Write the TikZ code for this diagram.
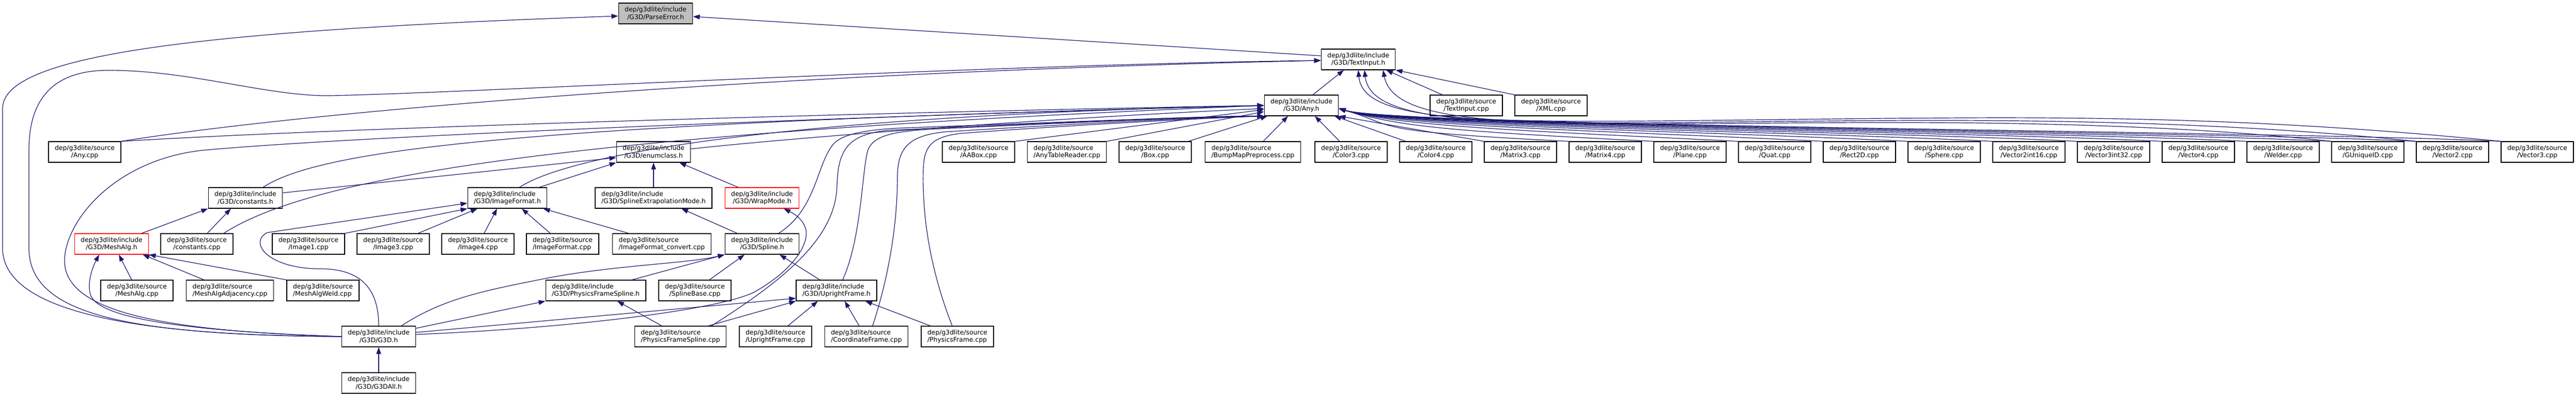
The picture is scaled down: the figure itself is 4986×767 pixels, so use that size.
\documentclass[tikz,border=0pt]{standalone}
\usepackage{fontspec}
\setmainfont{DejaVu Sans}
\usepackage{tikz}
\usetikzlibrary{arrows.meta}
\definecolor{Edge}{RGB}{25,25,112}
\definecolor{Root}{RGB}{191,191,191}
\newcommand{\SrcNode}[5][]{% style name x y file
\node[filebox,#1] (#2) at (#3,#4) {dep/g3dlite/source\\/#5};
}
\newcommand{\IncNode}[5][]{% style name x y header
\node[filebox,#1] (#2) at (#3,#4) {dep/g3dlite/include\\/G3D/#5};
}

\begin{document}
\begin{tikzpicture}[x=0.5pt,y=-0.5pt,
  filebox/.style={draw=black,fill=white,line width=0.6pt,inner xsep=6pt,inner ysep=2pt,
    minimum height=20pt,align=center,font=\fontsize{6.2}{7.2}\selectfont},
  lefty/.style={align=left},
  trunc/.style={draw=red},
  root/.style={fill=Root},
  dep/.style={Edge,line width=0.6pt,-{Triangle[length=6.5pt,width=4.6pt]}}]
\path[use as bounding box,fill=white] (0,0) rectangle (4986,767);
% upper rows
\IncNode[root]{ParseErr}{1269}{26}{ParseError.h}
\IncNode{TextInH}{2629}{115}{TextInput.h}
\IncNode{AnyH}{2519}{204}{Any.h}
\SrcNode{TextInCpp}{2838}{204}{TextInput.cpp}
\SrcNode{XmlCpp}{3002}{204}{XML.cpp}
\SrcNode{AnyCpp}{164}{294}{Any.cpp}
\IncNode{EnumH}{1265}{294}{enumclass.h}
\SrcNode{AABoxCpp}{1894}{294}{AABox.cpp}
\SrcNode[lefty]{AnyTabCpp}{2065}{294}{AnyTableReader.cpp}
\SrcNode{BoxCpp}{2236}{294}{Box.cpp}
\SrcNode[lefty]{BumpCpp}{2425}{294}{BumpMapPreprocess.cpp}
\foreach \n/\f [count=\i from 0] in {Color3Cpp/Color3.cpp,Color4Cpp/Color4.cpp,
    Matrix3Cpp/Matrix3.cpp,Matrix4Cpp/Matrix4.cpp,PlaneCpp/Plane.cpp,QuatCpp/Quat.cpp,
    Rect2DCpp/Rect2D.cpp,SphereCpp/Sphere.cpp,V2i16Cpp/Vector2int16.cpp,
    V3i32Cpp/Vector3int32.cpp,Vector4Cpp/Vector4.cpp,WelderCpp/Welder.cpp,
    GuidCpp/GUniqueID.cpp,Vector2Cpp/Vector2.cpp,Vector3Cpp/Vector3.cpp}
  \SrcNode{\n}{2615+164*\i}{294}{\f};
% lower rows
\IncNode{ConstH}{475}{383}{constants.h}
\IncNode[lefty]{ImgFmtH}{982}{383}{ImageFormat.h}
\IncNode[lefty]{SplExtH}{1265}{383}{SplineExtrapolationMode.h}
\IncNode[trunc]{WrapH}{1475}{383}{WrapMode.h}
\IncNode[trunc]{MeshAlgH}{216}{472}{MeshAlg.h}
\SrcNode{ConstCpp}{381}{472}{constants.cpp}
\SrcNode{Image1Cpp}{597}{472}{Image1.cpp}
\SrcNode{Image3Cpp}{761}{472}{Image3.cpp}
\SrcNode{Image4Cpp}{925}{472}{Image4.cpp}
\SrcNode[lefty]{ImgFmtCpp}{1089}{472}{ImageFormat.cpp}
\SrcNode[lefty]{ImgConvCpp}{1281}{472}{ImageFormat\_convert.cpp}
\IncNode{SplineH}{1475}{472}{Spline.h}
\SrcNode{MeshAlgCpp}{265}{562}{MeshAlg.cpp}
\SrcNode[lefty]{MeshAdjCpp}{445}{562}{MeshAlgAdjacency.cpp}
\SrcNode[lefty]{MeshWeldCpp}{625}{562}{MeshAlgWeld.cpp}
\IncNode[lefty]{PFSplineH}{1153}{562}{PhysicsFrameSpline.h}
\SrcNode{SplBaseCpp}{1345}{562}{SplineBase.cpp}
\IncNode[lefty]{UprightH}{1619}{562}{UprightFrame.h}
\IncNode{G3DH}{733}{651}{G3D.h}
\SrcNode[lefty]{PFSplineCpp}{1317}{651}{PhysicsFrameSpline.cpp}
\SrcNode[lefty]{UprightCpp}{1501}{651}{UprightFrame.cpp}
\SrcNode[lefty]{CoordCpp}{1677}{651}{CoordinateFrame.cpp}
\SrcNode[lefty]{PhysCpp}{1853}{651}{PhysicsFrame.cpp}
\IncNode{G3DAllH}{733}{741}{G3DAll.h}
% ParseError.h and TextInput.h
\draw[dep] ([yshift=3.5pt]TextInH.west) -- ([yshift=-3pt]ParseErr.east);
\draw[dep] (G3DH.west) .. controls (250,650) and (5,600) .. (5,480) -- (5,210)
  .. controls (5,110) and (350,60) .. ([yshift=-2.5pt]ParseErr.west);
\draw[dep] (G3DH.west) .. controls (250,648) and (56,610) .. (56,480) -- (56,290)
  .. controls (56,175) and (120,136) .. (210,136) .. controls (370,136) and (520,187) .. (640,185)
  .. controls (900,180) and (1900,125) .. ([yshift=-1pt]TextInH.west);
\draw[dep] (AnyCpp.north east) .. controls (600,215) and (1500,140) .. ([yshift=-1pt]TextInH.west);
\draw[dep] ([xshift=11pt]AnyH.north) -- ([xshift=-14pt]TextInH.south);
\draw[dep] ([xshift=-23pt]TextInCpp.north) -- ([xshift=27pt]TextInH.south);
\draw[dep] (XmlCpp.north west) -- (TextInH.south east);
\draw[dep] (GuidCpp.north west) .. controls (4250,245) and (3950,236) .. (3600,237)
  .. controls (3000,240) and (2700,255) .. ([xshift=24pt]TextInH.south);
\draw[dep] (Vector2Cpp.north west) .. controls (4400,245) and (4100,232) .. (3700,233)
  .. controls (3000,236) and (2655,262) .. ([xshift=6pt]TextInH.south);
\draw[dep] (Vector3Cpp.north west) .. controls (4500,240) and (4200,226) .. (3800,228)
  .. controls (3000,232) and (2640,262) .. (TextInH.south);
% Any.h from the left
\draw[dep] (AnyCpp.north east) .. controls (700,245) and (1800,215) .. (AnyH.west);
\draw[dep] (G3DH.west) .. controls (300,640) and (120,600) .. (125,500)
  .. controls (130,420) and (230,305) .. (400,290) .. controls (800,255) and (2000,215) .. (AnyH.west);
\draw[dep] ([xshift=17pt]ConstH.north) .. controls (620,290) and (1000,240) .. (AnyH.west);
\draw[dep] ([xshift=26pt]ConstCpp.north) .. controls (620,330) and (1200,255) .. (AnyH.west);
\draw[dep] ([yshift=3pt]EnumH.east) .. controls (1600,260) and (2100,225) .. ([yshift=-3pt]AnyH.west);
\draw[dep] ([xshift=-27pt]ImgFmtH.north east) .. controls (1100,300) and (1500,225) .. (AnyH.west);
% Any.h from below
\draw[dep] ([xshift=16pt]SplineH.north) .. controls (1580,405) and (1580,320) .. (1612,280)
  .. controls (1630,258) and (1680,250) .. (1760,247) .. controls (2100,235) and (2350,224) .. (AnyH.south west);
\draw[dep] ([xshift=30pt]PFSplineCpp.north) .. controls (1520,540) and (1617,460) .. (1620,360)
  .. controls (1622,290) and (1640,260) .. (1720,252) .. controls (2100,235) and (2350,224) .. (AnyH.south west);
\draw[dep] ([xshift=6pt]UprightH.north) .. controls (1668,460) and (1668,330) .. (1680,290)
  .. controls (1690,265) and (1720,255) .. (1800,250) .. controls (2100,236) and (2350,225) .. (AnyH.south west);
\draw[dep] ([xshift=6pt]CoordCpp.north) .. controls (1725,520) and (1737,420) .. (1737,340)
  .. controls (1738,285) and (1760,262) .. (1830,255) .. controls (2100,238) and (2350,226) .. (AnyH.south west);
\draw[dep] ([xshift=-5pt]PhysCpp.north) .. controls (1800,520) and (1785,420) .. (1787,330)
  .. controls (1788,285) and (1800,265) .. (1860,258) .. controls (2100,240) and (2350,228) .. (AnyH.south west);
\draw[dep] (AABoxCpp.north east) -- ([yshift=-4pt]AnyH.west);
\draw[dep] (AnyTabCpp.north east) -- ([yshift=-6pt]AnyH.west);
\draw[dep] ([xshift=32pt]BoxCpp.north) -- ([xshift=-33pt]AnyH.south);
\draw[dep] ([xshift=10pt]BumpCpp.north) -- ([xshift=-13pt]AnyH.south);
\draw[dep] ([xshift=-11pt]Color3Cpp.north) -- ([xshift=13pt]AnyH.south);
\draw[dep] ([xshift=-29pt]Color4Cpp.north) -- ([xshift=32pt]AnyH.south);
\draw[dep] (Matrix3Cpp.north west) -- (AnyH.south east);
\foreach \f in {Matrix4Cpp,PlaneCpp,QuatCpp,Rect2DCpp,SphereCpp,V2i16Cpp,V3i32Cpp,
    Vector4Cpp,WelderCpp,GuidCpp,Vector2Cpp,Vector3Cpp}
  \draw[dep] (\f.north west) .. controls +(-400,-20) and +(120,35) .. ([yshift=-3pt]AnyH.east);
% enumclass.h and constants.h
\draw[dep] ([yshift=5pt]ConstH.east) -- ([yshift=-5.5pt]EnumH.west);
\draw[dep] ([xshift=-8pt]ImgFmtH.north east) -- (EnumH.south west);
\draw[dep] (SplExtH) -- (EnumH);
\draw[dep] ([xshift=-23pt]WrapH.north) -- ([xshift=25pt]EnumH.south);
\draw[dep] ([xshift=29pt]MeshAlgH.north) -- (ConstH.south west);
\draw[dep] ([xshift=10pt]ConstCpp.north) -- ([xshift=-14pt]ConstH.south);
% ImageFormat.h
\draw[dep] (Image1Cpp.north east) -- (ImgFmtH.south west);
\draw[dep] ([xshift=24pt]Image3Cpp.north) -- ([xshift=-29pt]ImgFmtH.south);
\draw[dep] ([xshift=6pt]Image4Cpp.north) -- ([xshift=-10pt]ImgFmtH.south);
\draw[dep] ([xshift=-12pt]ImgFmtCpp.north) -- ([xshift=14pt]ImgFmtH.south);
\draw[dep] ([xshift=-32pt]ImgConvCpp.north) -- ([xshift=-4pt]ImgFmtH.south east);
\draw[dep] (G3DH.north) .. controls (733,560) and (700,520) .. (620,520)
  .. controls (520,520) and (480,470) .. (517,450) -- ([yshift=-5pt]ImgFmtH.west);
% MeshAlg.h
\draw[dep] ([xshift=-5pt]MeshAlgCpp.north) -- ([xshift=7pt]MeshAlgH.south);
\draw[dep] ([xshift=-25pt]MeshAdjCpp.north) -- ([xshift=-6pt]MeshAlgH.south east);
\draw[dep] (MeshWeldCpp.north west) -- (MeshAlgH.south east);
\draw[dep] (G3DH.west) .. controls (350,640) and (190,615) .. (175,570)
  .. controls (168,545) and (180,515) .. ([xshift=-12pt]MeshAlgH.south);
% Spline.h, UprightFrame.h, PhysicsFrameSpline.h
\draw[dep] ([xshift=-24pt]SplineH.north) -- ([xshift=27pt]SplExtH.south);
\draw[dep] ([xshift=35pt]PFSplineH.north) -- (SplineH.south west);
\draw[dep] ([xshift=14pt]SplBaseCpp.north) -- ([xshift=-17pt]SplineH.south);
\draw[dep] ([xshift=-16pt]UprightH.north) -- ([xshift=17pt]SplineH.south);
\draw[dep] ([xshift=-18pt]PFSplineCpp.north) -- ([xshift=21pt]PFSplineH.south);
\draw[dep] ([xshift=27pt]PFSplineCpp.north) -- (UprightH.south west);
\draw[dep] ([xshift=12pt]UprightCpp.north) -- ([xshift=-18pt]UprightH.south);
\draw[dep] ([xshift=-7pt]CoordCpp.north) -- ([xshift=8pt]UprightH.south);
\draw[dep] ([xshift=-26pt]PhysCpp.north) -- ([xshift=28pt]UprightH.south);
% G3D.h
\draw[dep] ([xshift=22pt]G3DH.north) .. controls (860,575) and (950,560) .. (1064,537)
  .. controls (1200,512) and (1330,510) .. (SplineH.south west);
\draw[dep] ([yshift=8pt]G3DH.east) -- (PFSplineH.south west);
\draw[dep] ([yshift=4pt]G3DH.east) -- ([yshift=-7.5pt]UprightH.west);
\draw[dep] ([yshift=2pt]G3DH.east) .. controls (1100,635) and (1390,600) .. (1460,565)
  .. controls (1540,520) and (1565,470) .. (1560,445) .. controls (1555,425) and (1540,415) .. ([xshift=21pt]WrapH.south);
\draw[dep] (G3DAllH) -- (G3DH);
\end{tikzpicture}
\end{document}
